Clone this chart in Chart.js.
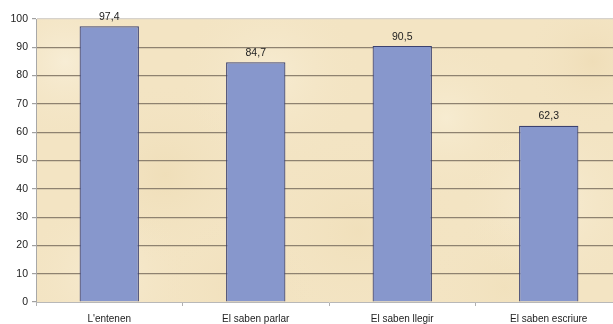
<!DOCTYPE html>
<html>
<head>
<meta charset="utf-8">
<script src="https://cdn.jsdelivr.net/npm/chart.js@4/dist/chart.umd.min.js"></script>
<style>
  html, body { margin: 0; padding: 0; background: #ffffff; overflow: hidden; }
  #wrap { position: relative; width: 623px; height: 324px; }
</style>
</head>
<body>
<div id="wrap"><canvas id="c" width="623" height="324"></canvas></div>
<script>
const categories = ["L'entenen", "El saben parlar", "El saben llegir", "El saben escriure"];
const values = [97.4, 84.7, 90.5, 62.3];
const yTicks = [0, 10, 20, 30, 40, 50, 60, 70, 80, 90, 100];

const fmt = v => v.toFixed(1).replace('.', ',');

// Parchment-like fill behind the plot area
const parchment = {
  id: 'parchment',
  beforeDraw(chart) {
    const { ctx, chartArea: a } = chart;
    const w = a.right - a.left, h = a.bottom - a.top;
    ctx.save();
    ctx.beginPath();
    ctx.rect(a.left, a.top, w, h);
    ctx.clip();
    ctx.fillStyle = '#f3e4c3';
    ctx.fillRect(a.left, a.top, w, h);
    const spots = [
      [0.05, 0.15, 0.14, 'rgba(250,243,225,0.6)'],
      [0.22, 0.55, 0.16, 'rgba(234,214,170,0.4)'],
      [0.40, 0.20, 0.16, 'rgba(250,242,222,0.55)'],
      [0.55, 0.75, 0.18, 'rgba(236,216,172,0.35)'],
      [0.70, 0.35, 0.14, 'rgba(250,242,220,0.55)'],
      [0.88, 0.65, 0.16, 'rgba(250,243,225,0.55)'],
      [0.95, 0.15, 0.12, 'rgba(234,212,168,0.4)'],
      [0.12, 0.90, 0.14, 'rgba(250,242,222,0.55)'],
      [0.35, 0.95, 0.14, 'rgba(236,216,174,0.35)'],
      [0.80, 0.95, 0.14, 'rgba(238,220,178,0.35)']
    ];
    spots.forEach(([fx, fy, fr, col]) => {
      const x = a.left + fx * w, y = a.top + fy * h, r = fr * w;
      const g = ctx.createRadialGradient(x, y, 0, x, y, r);
      g.addColorStop(0, col);
      g.addColorStop(1, 'rgba(243,228,195,0)');
      ctx.fillStyle = g;
      ctx.fillRect(a.left, a.top, w, h);
    });
    ctx.restore();
  }
};

// Value labels above each bar
const valueLabels = {
  id: 'valueLabels',
  afterDatasetsDraw(chart) {
    const { ctx } = chart;
    const meta = chart.getDatasetMeta(0);
    ctx.save();
    ctx.font = '10.5px "Liberation Sans", Arial, sans-serif';
    ctx.fillStyle = '#222222';
    ctx.textAlign = 'center';
    ctx.textBaseline = 'bottom';
    meta.data.forEach((bar, i) => {
      ctx.fillText(fmt(values[i]), bar.x, bar.y - 4);
    });
    ctx.restore();
  }
};

new Chart(document.getElementById('c'), {
  type: 'bar',
  data: {
    labels: categories,
    datasets: [{
      data: values,
      backgroundColor: '#8797cc',
      borderColor: '#3b4170',
      borderWidth: 1.2,
      borderSkipped: 'bottom',
      barPercentage: 0.405,
      categoryPercentage: 1
    }]
  },
  options: {
    responsive: false,
    animation: false,
    devicePixelRatio: 1,
    layout: { padding: { top: 19, right: 1, left: 0, bottom: 0 } },
    plugins: { legend: { display: false }, tooltip: { enabled: false } },
    scales: {
      x: {
        afterFit: s => { s.height = 22; },
        grid: {
          offset: true,
          drawOnChartArea: false,
          drawTicks: true,
          tickLength: 4,
          tickColor: '#b0b0b0'
        },
        border: { color: '#b8b8b8', width: 1 },
        ticks: {
          padding: 7,
          color: '#222222',
          font: { family: '"Liberation Sans", Arial, sans-serif', size: 10 }
        }
      },
      y: {
        min: 0,
        max: 100,
        afterFit: s => { s.width = 36; },
        afterBuildTicks: s => { s.ticks = yTicks.map(v => ({ value: v })); },
        grid: {
          color: ctx => ctx.tick && ctx.tick.value === 100 ? '#d6d2cc' : (ctx.tick && ctx.tick.value === 0 ? 'rgba(0,0,0,0)' : '#8e8270'),
          lineWidth: 1.2,
          tickLength: 4,
          tickColor: '#a0a0a0'
        },
        border: { color: '#a8a8a8', width: 1 },
        ticks: {
          padding: 4,
          color: '#222222',
          font: { family: '"Liberation Sans", Arial, sans-serif', size: 10.5 }
        }
      }
    }
  },
  plugins: [parchment, valueLabels]
});
</script>
</body>
</html>
